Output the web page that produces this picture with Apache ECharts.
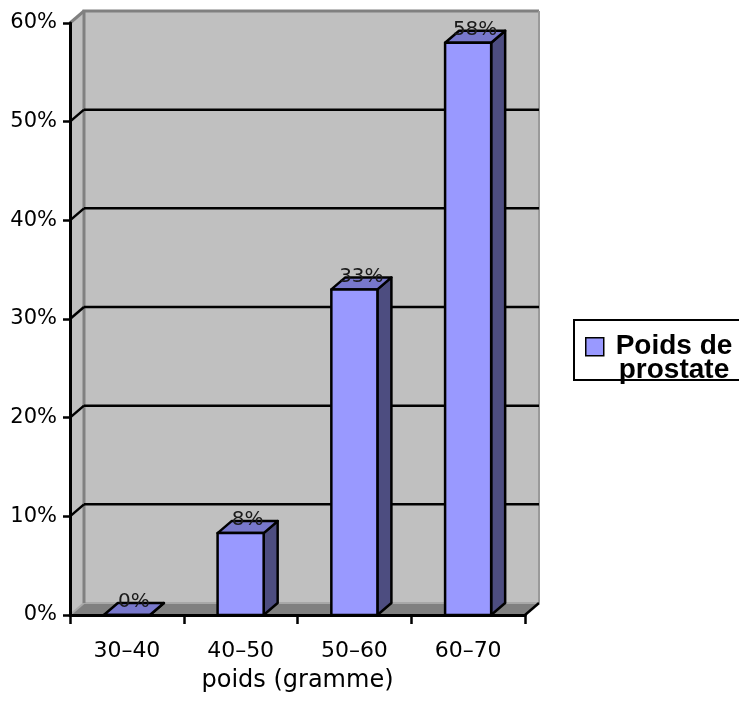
<!DOCTYPE html>
<html><head><meta charset="utf-8">
<script src="https://cdn.jsdelivr.net/npm/echarts@6.0.0/dist/echarts.min.js"></script>
<style>html,body{margin:0;padding:0;background:#fff}#c{width:739px;height:708px}</style>
</head><body><div id="c"></div>
<script>
// ---- data ----
const categories = ['30–40', '40–50', '50–60', '60–70'];
const values = [0, 0.083, 0.33, 0.58];
const yTicks = [0, 0.1, 0.2, 0.3, 0.4, 0.5, 0.6];
const seriesName = 'Poids de prostate';
const legendText = 'Poids de\nprostate';
const xAxisTitle = 'poids (gramme)';

// ---- style ----
const DX = 14, DY = -12;
const BAR_COLOR = '#9999ff', TOP_COLOR = '#7878cc', SIDE_COLOR = '#4d4d80';
const WALL = '#c0c0c0', FLOOR = '#808080', EDGE = '#808080';
const YMAX = yTicks[yTicks.length - 1];
const fmtPct = v => Math.round(v * 100) + '%';

const chart = echarts.init(document.getElementById('c'));

function frame(api) {
  const bw = api.size([1, 0])[0];
  const x0 = api.coord([0, 0])[0] - bw / 2;
  const x1 = api.coord([categories.length - 1, 0])[0] + bw / 2;
  const yb = api.coord([0, 0])[1];
  const yt = api.coord([0, YMAX])[1];
  return {bw, x0, x1, yb, yt};
}

function wallRender(params, api) {
  const f = frame(api);
  const {x0, x1, yb, yt} = f;
  return {
    type: 'group',
    children: [
      {type: 'polygon', shape: {points: [[x0, yb], [x0, yt], [x0 + DX, yt + DY], [x0 + DX, yb + DY]]}, style: {fill: WALL}},
      {type: 'rect', shape: {x: x0 + DX, y: yt + DY, width: x1 - x0, height: yb - yt}, style: {fill: WALL}},
      {type: 'polygon', shape: {points: [[x0, yb], [x1, yb], [x1 + DX, yb + DY], [x0 + DX, yb + DY]]}, style: {fill: FLOOR}},
      {type: 'line', shape: {x1: x0 + DX, y1: yb + DY, x2: x1 + DX, y2: yb + DY}, style: {stroke: '#a8a8a8', lineWidth: 2}},
      {type: 'line', shape: {x1: x0, y1: yb, x2: x0 + DX, y2: yb + DY}, style: {stroke: '#a8a8a8', lineWidth: 2}},
      {type: 'polyline', shape: {points: [[x0 + DX, yb + DY], [x0 + DX, yt + DY], [x1 + DX, yt + DY]]}, style: {stroke: EDGE, lineWidth: 3, fill: null}},
      {type: 'line', shape: {x1: x1 + DX, y1: yt + DY, x2: x1 + DX, y2: yb + DY}, style: {stroke: '#9a9a9a', lineWidth: 2}},
      {type: 'line', shape: {x1: x0, y1: yt, x2: x0 + DX, y2: yt + DY}, style: {stroke: EDGE, lineWidth: 3}},
      {type: 'line', shape: {x1: x1, y1: yb, x2: x1 + DX, y2: yb + DY}, style: {stroke: '#000', lineWidth: 2.5}}
    ]
  };
}

function gridRender(params, api) {
  const v = api.value(1);
  if (v <= 0 || v >= YMAX) return null;
  const f = frame(api);
  const y = api.coord([0, v])[1];
  return {
    type: 'group',
    children: [
      {type: 'line', shape: {x1: f.x0 + DX, y1: y + DY, x2: f.x1 + DX, y2: y + DY}, style: {stroke: '#000', lineWidth: 2.5}},
      {type: 'line', shape: {x1: f.x0, y1: y, x2: f.x0 + DX, y2: y + DY}, style: {stroke: '#000', lineWidth: 2.5}}
    ]
  };
}

function barRender(params, api) {
  const i = api.value(0), v = api.value(1);
  const bw = api.size([1, 0])[0];
  const w = bw * 0.405;
  const c = api.coord([i, v]);
  const yb = api.coord([i, 0])[1];
  const xl = c[0] - w / 2, xr = c[0] + w / 2, yt = c[1];
  const stroke = {stroke: '#000', lineWidth: 2.5, lineJoin: 'round'};
  return {
    type: 'group',
    children: [
      {type: 'polygon', shape: {points: [[xr, yb], [xr + DX, yb + DY], [xr + DX, yt + DY], [xr, yt]]}, style: Object.assign({fill: SIDE_COLOR}, stroke)},
      {type: 'polygon', shape: {points: [[xl, yt], [xl + DX, yt + DY], [xr + DX, yt + DY], [xr, yt]]}, style: Object.assign({fill: TOP_COLOR}, stroke)},
      {type: 'rect', shape: {x: xl, y: yt, width: w, height: yb - yt}, style: Object.assign({fill: BAR_COLOR}, stroke)},
      {type: 'text', x: c[0] + DX / 2, y: yt + DY - 1, style: {text: fmtPct(v), fill: '#1a1a1a', font: '20px "DejaVu Sans"', align: 'center', verticalAlign: 'middle'}}
    ]
  };
}

chart.setOption({
  animation: false,
  backgroundColor: '#fff',
  grid: {left: 70, right: 214, top: 23, bottom: 93, containLabel: false},
  xAxis: {
    type: 'category', data: categories, z: 10,
    axisLine: {lineStyle: {color: '#000', width: 3}},
    axisTick: {show: true, length: 9, lineStyle: {color: '#000', width: 2.5}},
    axisLabel: {color: '#000', fontSize: 22, fontFamily: 'DejaVu Sans', margin: 25},
    splitLine: {show: false},
    name: xAxisTitle, nameLocation: 'middle', nameGap: 54,
    nameTextStyle: {color: '#000', fontSize: 24, fontFamily: 'DejaVu Sans'}
  },
  yAxis: {
    type: 'value', min: 0, max: YMAX, interval: 0.1, z: 10,
    axisLine: {show: true, lineStyle: {color: '#000', width: 3}},
    axisTick: {show: true, length: 7, lineStyle: {color: '#000', width: 2.5}},
    axisLabel: {color: '#000', fontSize: 21, fontFamily: 'DejaVu Sans', margin: 13, formatter: fmtPct},
    splitLine: {show: false}
  },
  series: [
    {type: 'custom', name: 'walls', z: 1, silent: true, renderItem: wallRender, data: [[0, 0]]},
    {type: 'custom', name: 'grid', z: 2, silent: true, renderItem: gridRender, data: yTicks.map(v => [0, v])},
    {type: 'custom', name: seriesName, z: 5, itemStyle: {color: BAR_COLOR}, renderItem: barRender,
     data: values.map((v, i) => [i, v])}
  ],
  graphic: [
    {type: 'rect', left: 573, top: 319, shape: {width: 190, height: 60}, style: {fill: '#fff', stroke: '#000', lineWidth: 2}, z: 20},
    {type: 'rect', left: 585, top: 337, shape: {width: 18, height: 18}, style: {fill: BAR_COLOR, stroke: '#000', lineWidth: 1.5}, z: 21},
    {type: 'text', x: 674, y: 358, style: {text: legendText, font: 'bold 28px "Liberation Sans"', fill: '#000', align: 'center', verticalAlign: 'middle', lineHeight: 24}, z: 21}
  ]
});
</script>
</body></html>
